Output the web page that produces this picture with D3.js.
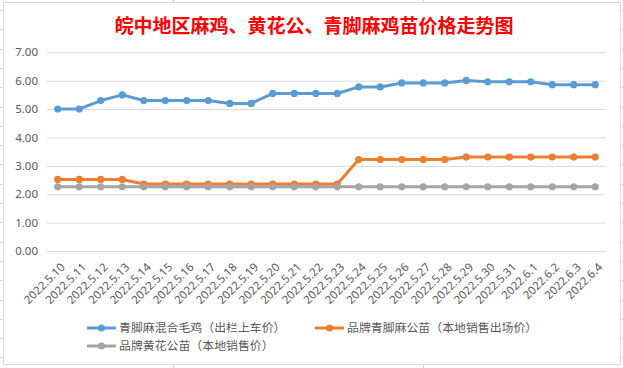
<!DOCTYPE html>
<html>
<head>
<meta charset="utf-8">
<script src="https://cdn.jsdelivr.net/npm/d3@7"></script>
<style>
  body { margin: 0; background: #fff; }
  svg { display: block; }
  text { font-family: "Noto Sans", "Noto Sans CJK SC", sans-serif; }
</style>
</head>
<body>
<script>
// chart data
var dates = ['2022.5.10', '2022.5.11', '2022.5.12', '2022.5.13', '2022.5.14', '2022.5.15', '2022.5.16',
    '2022.5.17', '2022.5.18', '2022.5.19', '2022.5.20', '2022.5.21', '2022.5.22', '2022.5.23',
    '2022.5.24', '2022.5.25', '2022.5.26', '2022.5.27', '2022.5.28', '2022.5.29', '2022.5.30',
    '2022.5.31', '2022.6.1', '2022.6.2', '2022.6.3', '2022.6.4'];
var blueVals = [5.0, 5.0, 5.3, 5.5, 5.3, 5.3, 5.3, 5.3, 5.2, 5.2, 5.55, 5.55, 5.55, 5.55,
    5.78, 5.78, 5.92, 5.92, 5.92, 6.01, 5.96, 5.96, 5.96, 5.86, 5.86, 5.86];
var orangeVals = [2.52, 2.52, 2.52, 2.52, 2.36, 2.36, 2.36, 2.36, 2.36, 2.36, 2.36, 2.36, 2.36, 2.36,
    3.22, 3.22, 3.22, 3.22, 3.22, 3.31, 3.31, 3.31, 3.31, 3.31, 3.31, 3.31];
var grayVals = [2.26, 2.26, 2.26, 2.26, 2.26, 2.26, 2.26, 2.26, 2.26, 2.26, 2.26, 2.26, 2.26, 2.26,
    2.26, 2.26, 2.26, 2.26, 2.26, 2.26, 2.26, 2.26, 2.26, 2.26, 2.26, 2.26];
var seriesNames = ['青脚麻混合毛鸡（出栏上车价）', '品牌青脚麻公苗（本地销售出场价）', '品牌黄花公苗（本地销售价）'];
var yTicks = [0, 1, 2, 3, 4, 5, 6, 7];
var titleText = '皖中地区麻鸡、黄花公、青脚麻鸡苗价格走势图';

var colors = ['#5B9BD5', '#ED7D31', '#A5A5A5'];
var series = [blueVals, orangeVals, grayVals];

var W = 623, H = 368;
var plot = {left: 47, right: 606, top: 52.3, bottom: 251};

var svg = d3.select('body').append('svg')
    .attr('width', W)
    .attr('height', H);

//spreadsheet cells behind the chart
var bg = svg.append('g').attr('stroke', '#d4d4d4').attr('stroke-width', 1);
d3.range(10, H, 19.3).forEach(function(y) {
    bg.append('line').attr('x1', 0).attr('x2', W).attr('y1', Math.round(y) + 0.5).attr('y2', Math.round(y) + 0.5);
});
[173, 423].forEach(function(x) {
    bg.append('line').attr('x1', x + 0.5).attr('x2', x + 0.5).attr('y1', 0).attr('y2', H);
});

//chart box
svg.append('rect')
    .attr('x', 3.5).attr('y', 2.5)
    .attr('width', 617).attr('height', 362)
    .attr('fill', '#fff')
    .attr('stroke', '#d9d9d9');

//title
svg.append('text')
    .attr('x', 314).attr('y', 33)
    .attr('text-anchor', 'middle')
    .style('font-family', '"Noto Sans CJK SC", sans-serif')
    .style('font-size', '19px')
    .style('font-weight', 'bold')
    .attr('fill', '#ff0000')
    .text(titleText);

var x = d3.scaleBand().domain(dates).range([plot.left, plot.right]);
var y = d3.scaleLinear().domain([0, 7]).range([plot.bottom, plot.top]);
var cx = function(d, i) { return x(dates[i]) + x.bandwidth() / 2; };

//y axis + gridlines
var yAxis = d3.axisLeft(y)
    .tickValues(yTicks)
    .tickFormat(d3.format('.2f'))
    .tickSize(-(plot.right - plot.left))
    .tickPadding(9);
var gy = svg.append('g')
    .attr('transform', 'translate(' + plot.left + ',0)')
    .call(yAxis);
gy.select('.domain').remove();
gy.selectAll('line').attr('stroke', '#d9d9d9');
gy.selectAll('text')
    .attr('fill', '#595959')
    .style('font-size', '11.5px');

//x axis labels
var xAxis = d3.axisBottom(x).tickSize(0).tickPadding(0);
var gx = svg.append('g')
    .attr('transform', 'translate(0,' + plot.bottom + ')')
    .call(xAxis);
gx.select('.domain').remove();
gx.selectAll('text')
    .attr('fill', '#595959')
    .style('font-size', '11.5px')
    .attr('text-anchor', 'end')
    .attr('dy', '0.35em')
    .attr('transform', 'translate(5,14) rotate(-45)');

//lines and markers
var line = d3.line().x(cx).y(function(d) { return y(d); });
series.forEach(function(vals, k) {
    svg.append('path')
        .datum(vals)
        .attr('d', line)
        .attr('fill', 'none')
        .attr('stroke', colors[k])
        .attr('stroke-width', 3)
        .attr('stroke-linejoin', 'round');
    svg.append('g').selectAll('circle')
        .data(vals)
        .enter().append('circle')
        .attr('cx', cx)
        .attr('cy', function(d) { return y(d); })
        .attr('r', 3.6)
        .attr('fill', colors[k]);
});

//legend
var legendPos = [[87, 328], [315, 328], [87, 346]];
seriesNames.forEach(function(name, k) {
    var g = svg.append('g').attr('transform', 'translate(' + legendPos[k][0] + ',' + legendPos[k][1] + ')');
    g.append('line').attr('x1', 0).attr('x2', 29).attr('y1', 0).attr('y2', 0)
        .attr('stroke', colors[k]).attr('stroke-width', 3);
    g.append('circle').attr('cx', 14.5).attr('cy', 0).attr('r', 3.6).attr('fill', colors[k]);
    g.append('text')
        .attr('x', 32).attr('y', 0).attr('dy', '0.36em')
        .style('font-family', '"Noto Sans CJK SC", sans-serif')
        .style('font-size', '11.9px')
        .attr('fill', '#595959')
        .text(name);
});
</script>
</body>
</html>
